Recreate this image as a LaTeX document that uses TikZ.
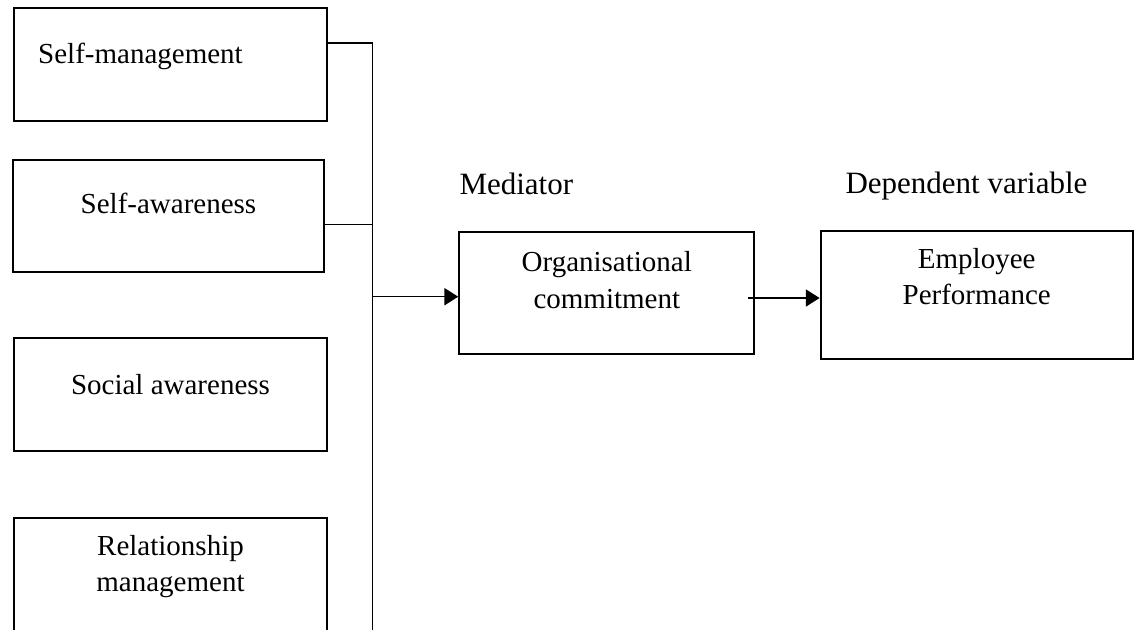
\documentclass[tikz,border=0pt]{standalone}
\usepackage{fontspec}
\setmainfont{Liberation Serif}
\usetikzlibrary{arrows.meta}
\begin{document}
\begin{tikzpicture}[x=0.4pt, y=-0.4pt,
        box/.style={draw, line width=0.85pt, minimum width=125pt, minimum height=45.2pt},
        every label/.style={align=center, font=\fontsize{11.6}{14.6}\selectfont},
        head/.style={font=\fontsize{12.4}{15}\selectfont, anchor=base west, inner sep=0pt},
        link/.style={line width=0.6pt},
        arr/.style={line width=0.6pt, -{Triangle[length=5.5pt,width=6.8pt]}}]
        \useasboundingbox (0,0) rectangle (1134,629);
        % independent variables
        \node[box, label={[xshift=-12pt,yshift=3.3pt]center:Self-management}] (sm) at (170.5,64.5) {};
        \node[box, minimum width=124.6pt, minimum height=44.8pt,
            label={[yshift=5.2pt]center:Self-awareness}] (sa) at (168.5,216) {};
        \node[box, label={[yshift=4pt]center:Social awareness}] (soc) at (170.5,394.5) {};
        \node[box, label={[yshift=3.2pt]center:Relationship\\management}] (rm) at (170.5,574.5) {};
        % mediator and outcome
        \node[box, minimum width=118pt, minimum height=48.9pt,
            label={[yshift=5.1pt]center:Organisational\\commitment}] (org) at (606.8,292.8) {};
        \node[box, minimum width=124.8pt, minimum height=51.4pt,
            label={[yshift=7.4pt]center:Employee\\Performance}] (emp) at (976.7,295) {};
        \node[head] (med) at (459,194.5) {Mediator};
        \node[head] (dep) at (845,193.5) {Dependent variable};
        % joining line
        \coordinate (top) at (372.7,43);
        \coordinate (bot) at (372.7,640);
        \coordinate (jsa) at (372.7,224.3);
        \coordinate (jorg) at (372.7,296.7);
        \coordinate (jemp) at (748,298);
        \draw[link] (top) -- (bot);
        \draw[link] (sm.east |- top) -- (top);
        \draw[link] (sa.east |- jsa) -- (jsa);
        \draw[arr] (jorg) -- (org.west |- jorg);
        \draw[arr] (jemp) -- (emp.west |- jemp);
    \end{tikzpicture}
\end{document}
